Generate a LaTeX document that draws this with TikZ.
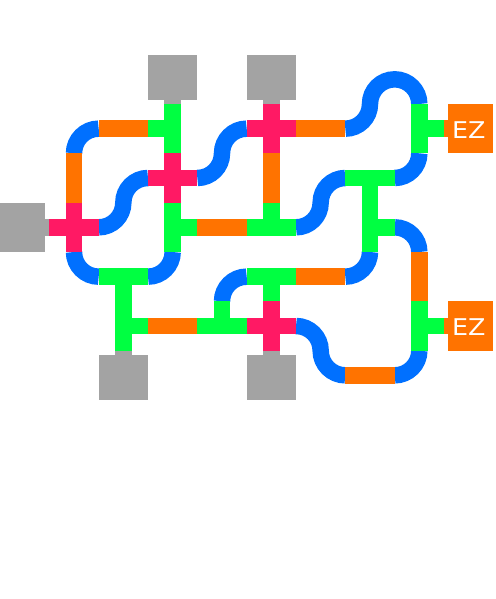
\documentclass[tikz,border=0pt]{standalone}
\usepackage{fontspec}
\newfontfamily\ezfont[FakeStretch=1.1]{DejaVu Sans}
\definecolor{trackblue}{RGB}{0,112,255}
\definecolor{trackorange}{RGB}{255,115,0}
\definecolor{trackgreen}{RGB}{0,255,65}
\definecolor{trackpink}{RGB}{255,25,100}
\definecolor{portgray}{RGB}{163,163,163}
\tikzset{
  track/.style={line width=0.3333cm},
  port stem/.style={track, shorten <=-0.05cm},
  gray port/.style={rectangle, fill=portgray, inner sep=0pt, minimum width=1cm, minimum height=0.9167cm},
  side port/.style={gray port, minimum width=0.9167cm, minimum height=1cm},
  ez port/.style={side port, fill=trackorange},
  ez text/.style={text=white, inner sep=0pt, xshift=-0.04cm, yshift=-0.026cm, font=\ezfont\fontsize{13.3}{16}\selectfont},
}
\begin{document}
\begin{tikzpicture}
            \useasboundingbox (-0.5,0.608) rectangle (9.534,-11.534);
            % ports
            \node[gray port] (top left port) at (3,-0.9583) {};
            \node[gray port] (top right port) at (5,-0.9583) {};
            \node[gray port] (bottom left port) at (2,-7.0417) {};
            \node[gray port] (bottom right port) at (5,-7.0417) {};
            \node[side port] (left port) at (-0.0417,-4) {};
            \node[ez port, label={[ez text]center:EZ}] (upper ez) at (9.0417,-2) {};
            \node[ez port, label={[ez text]center:EZ}] (lower ez) at (9.0417,-6) {};
            \draw[port stem, portgray] (top left port.south) -- (3,-1.5);
            \draw[port stem, portgray] (top right port.south) -- (5,-1.5);
            \draw[port stem, portgray] (bottom left port.north) -- (2,-6.5);
            \draw[port stem, portgray] (bottom right port.north) -- (5,-6.5);
            \draw[port stem, portgray] (left port.east) -- (0.5,-4);
            \draw[port stem, trackorange] (upper ez.west) -- (8.5,-2);
            \draw[port stem, trackorange] (lower ez.west) -- (8.5,-6);
            % bends
            \draw[track, trackblue] (1.5,-2) arc (90:180:0.5);
            \draw[track, trackblue] (1.5,-4) arc (-90:0:0.5) arc (180:90:0.5);
            \draw[track, trackblue] (3.5,-3) arc (-90:0:0.5) arc (180:90:0.5);
            \draw[track, trackblue] (5.5,-4) arc (-90:0:0.5) arc (180:90:0.5);
            \draw[track, trackblue] (6.5,-2) arc (-90:0:0.5) arc (180:90:0.5) arc (90:0:0.5);
            \draw[track, trackblue] (7.5,-3) arc (-90:0:0.5);
            \draw[track, trackblue] (7.5,-4) arc (90:0:0.5);
            \draw[track, trackblue] (1,-4.5) arc (180:270:0.5);
            \draw[track, trackblue] (3,-4.5) arc (0:-90:0.5);
            \draw[track, trackblue] (4,-5.5) arc (180:90:0.5);
            \draw[track, trackblue] (6.5,-5) arc (-90:0:0.5);
            \draw[track, trackblue] (5.5,-6) arc (90:0:0.5) arc (180:270:0.5);
            \draw[track, trackblue] (7.5,-7) arc (-90:0:0.5);
            % straights
            \draw[track, trackorange] (1.5,-2) -- (2.5,-2);
            \draw[track, trackorange] (1,-2.5) -- (1,-3.5);
            \draw[track, trackorange] (5,-2.5) -- (5,-3.5);
            \draw[track, trackorange] (5.5,-2) -- (6.5,-2);
            \draw[track, trackorange] (3.5,-4) -- (4.5,-4);
            \draw[track, trackorange] (8,-4.5) -- (8,-5.5);
            \draw[track, trackorange] (5.5,-5) -- (6.5,-5);
            \draw[track, trackorange] (2.5,-6) -- (3.5,-6);
            \draw[track, trackorange] (6.5,-7) -- (7.5,-7);
            % tees
            \draw[track, trackgreen] (3,-1.5) -- (3,-2.5) (2.5,-2) -- (3,-2);
            \draw[track, trackgreen] (8,-1.5) -- (8,-2.5) (8,-2) -- (8.5,-2);
            \draw[track, trackgreen] (3,-3.5) -- (3,-4.5) (3,-4) -- (3.5,-4);
            \draw[track, trackgreen] (4.5,-4) -- (5.5,-4) (5,-3.5) -- (5,-4);
            \draw[track, trackgreen] (6.5,-3) -- (7.5,-3) (7,-3) -- (7,-3.5);
            \draw[track, trackgreen] (7,-3.5) -- (7,-4.5) (7,-4) -- (7.5,-4);
            \draw[track, trackgreen] (1.5,-5) -- (2.5,-5) (2,-5) -- (2,-5.5);
            \draw[track, trackgreen] (2,-5.5) -- (2,-6.5) (2,-6) -- (2.5,-6);
            \draw[track, trackgreen] (3.5,-6) -- (4.5,-6) (4,-5.5) -- (4,-6);
            \draw[track, trackgreen] (4.5,-5) -- (5.5,-5) (5,-5) -- (5,-5.5);
            \draw[track, trackgreen] (8,-5.5) -- (8,-6.5) (8,-6) -- (8.5,-6);
            % crossings
            \draw[track, trackpink] (0.5,-4) -- (1.5,-4) (1,-3.5) -- (1,-4.5);
            \draw[track, trackpink] (2.5,-3) -- (3.5,-3) (3,-2.5) -- (3,-3.5);
            \draw[track, trackpink] (4.5,-2) -- (5.5,-2) (5,-1.5) -- (5,-2.5);
            \draw[track, trackpink] (4.5,-6) -- (5.5,-6) (5,-5.5) -- (5,-6.5);
          \end{tikzpicture}
\end{document}
